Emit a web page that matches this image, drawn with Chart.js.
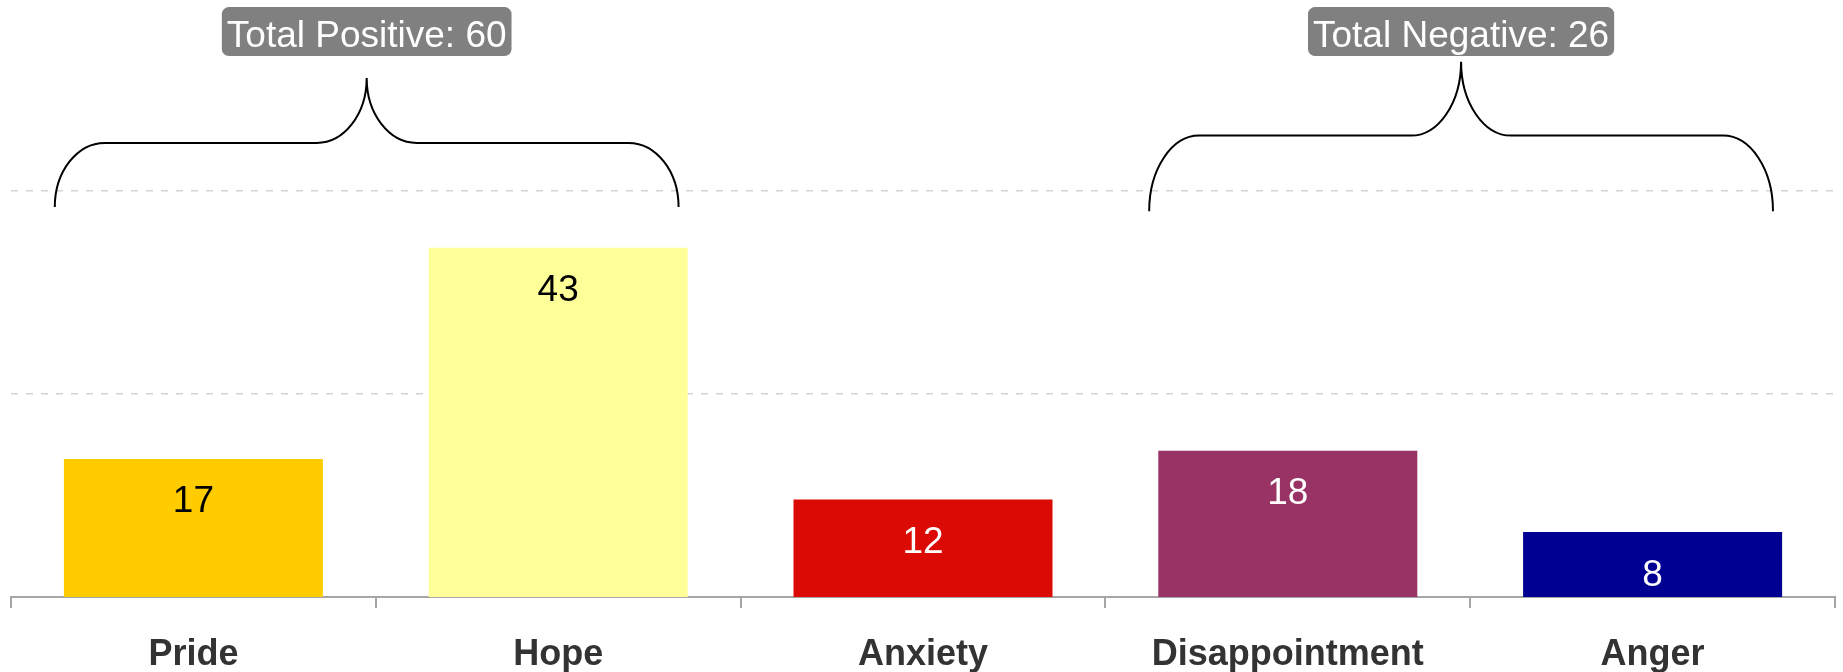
<!DOCTYPE html>
<html>
<head>
<meta charset="utf-8">
<script src="https://cdn.jsdelivr.net/npm/chart.js@4.4.0/dist/chart.umd.min.js"></script>
<style>
  body { margin: 0; background: #fff; }
  .canvas { width: 1843px; height: 672px; }
</style>
</head>
<body>
<div class="canvas"><canvas id="chart"></canvas></div>
<script>
//setup
const labels = ["Pride", "Hope", "Anxiety", "Disappointment", "Anger"];
const counts = [17, 43, 12, 18, 8];
const barColors = ["#FFCC00", "#FFFF99", "#DC0A05", "#993366", "#000093"];
const valueColors = ["#000000", "#000000", "#ffffff", "#ffffff", "#ffffff"];
const gridValues = [25, 50];
const yMax = 73;

// brace groups: which categories go together and where the brace sits (in y units)
const groupNames = ["Total Positive", "Total Negative"];
const groupFrom = [0, 3];
const groupTo = [1, 4];
const braceEndY = [48, 47.5];
const braceMidY = [55.9, 56.8];
const braceTipY = [63.9, 65.9];
const boxY = 69.6;

const FONT = "'Liberation Sans', Arial, Helvetica, sans-serif";

// value labels inside the bars
const valueLabels = {
  id: "valueLabels",
  afterDatasetsDraw(chart) {
    const ctx = chart.ctx;
    const meta = chart.getDatasetMeta(0);
    ctx.save();
    ctx.font = "37px " + FONT;
    ctx.textAlign = "center";
    ctx.textBaseline = "alphabetic";
    meta.data.forEach((bar, i) => {
      ctx.fillStyle = valueColors[i];
      ctx.fillText(String(counts[i]), bar.x, bar.y + 53.5);
    });
    ctx.restore();
  },
};

// curly braces + total boxes on top
const braces = {
  id: "braces",
  afterDatasetsDraw(chart) {
    const ctx = chart.ctx;
    const x = chart.scales.x;
    const y = chart.scales.y;
    ctx.save();
    for (let g = 0; g < groupNames.length; g++) {
      const left = x.getPixelForValue(groupFrom[g] - 0.38);
      const right = x.getPixelForValue(groupTo[g] + 0.33);
      const mid = (left + right) / 2;
      const curl = x.getPixelForValue(0.137) - x.getPixelForValue(0);
      const yEnd = y.getPixelForValue(braceEndY[g]);
      const yMid = y.getPixelForValue(braceMidY[g]);
      const yTip = y.getPixelForValue(braceTipY[g]);

      ctx.beginPath();
      ctx.strokeStyle = "#000";
      ctx.lineWidth = 2;
      // left end
      ctx.moveTo(left, yEnd);
      ctx.ellipse(left + curl, yEnd, curl, yEnd - yMid, 0, Math.PI, Math.PI * 1.5);
      ctx.lineTo(mid - curl, yMid);
      // tip
      ctx.ellipse(mid - curl, yTip, curl, yMid - yTip, 0, Math.PI / 2, 0, true);
      ctx.ellipse(mid + curl, yTip, curl, yMid - yTip, 0, Math.PI, Math.PI / 2, true);
      ctx.lineTo(right - curl, yMid);
      // right end
      ctx.ellipse(right - curl, yEnd, curl, yEnd - yMid, 0, Math.PI * 1.5, Math.PI * 2);
      ctx.stroke();

      // total box
      let total = 0;
      for (let i = groupFrom[g]; i <= groupTo[g]; i++) total += counts[i];
      const text = groupNames[g] + ": " + total;
      ctx.font = "37px " + FONT;
      const w = ctx.measureText(text).width + 10;
      const h = 49;
      const cy = y.getPixelForValue(boxY);
      ctx.fillStyle = "#808080";
      ctx.beginPath();
      ctx.roundRect(mid - w / 2, cy - h / 2, w, h, 7);
      ctx.fill();
      ctx.fillStyle = "#ffffff";
      ctx.textAlign = "center";
      ctx.textBaseline = "alphabetic";
      ctx.fillText(text, mid, cy + 15.5);
    }
    ctx.restore();
  },
};

const data = {
  labels: labels,
  datasets: [
    {
      label: "Count",
      data: counts,
      backgroundColor: barColors,
      borderWidth: 0,
      barPercentage: 0.71,
      categoryPercentage: 1,
    },
  ],
};

//config
const config = {
  type: "bar",
  data: data,
  options: {
    responsive: true,
    maintainAspectRatio: false,
    animation: false,
    layout: { padding: { top: 4, left: 11, right: 8, bottom: 0 } },
    scales: {
      x: {
        offset: true,
        grid: {
          offset: true,
          drawOnChartArea: false,
          drawTicks: true,
          tickLength: 11,
          color: "#a6a6a6",
          lineWidth: 2,
        },
        border: { display: true, color: "#a6a6a6", width: 2 },
        ticks: {
          color: "#333333",
          padding: 25.5,
          font: { family: FONT, size: 36, weight: "bold" },
        },
        afterFit: (scale) => {
          scale.height = 75;
        },
      },
      y: {
        min: 0,
        max: yMax,
        afterBuildTicks: (scale) => {
          scale.ticks = gridValues.map((v) => ({ value: v }));
        },
        ticks: { display: false },
        border: { display: false },
        grid: {
          drawTicks: false,
          color: "#d3d3d3",
          lineWidth: 1.5,
        },
      },
    },
    plugins: {
      legend: { display: false },
      tooltip: { enabled: false },
    },
  },
  plugins: [valueLabels, braces],
};

// dashed grid lines
config.options.scales.y.border.dash = [7, 8];

const myChart = new Chart(document.getElementById("chart"), config);
</script>
</body>
</html>
